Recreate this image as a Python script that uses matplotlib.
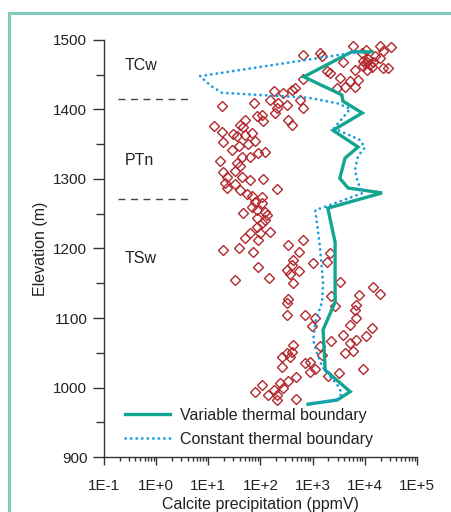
import numpy as np
import matplotlib
matplotlib.use("Agg")
import matplotlib.pyplot as plt
from matplotlib.patches import Rectangle
from matplotlib.ticker import FixedLocator, LogLocator, NullFormatter

plt.rcParams['font.family'] = ['Liberation Sans', 'DejaVu Sans']

# measured calcite (log10 of ppmV) vs elevation (m)
obs_elev = [
    1491, 1479, 1481, 1477, 1486, 1481, 1491, 1490, 1484, 1477, 1472, 1467, 1462,
    1465, 1469, 1457, 1474, 1460, 1460, 1468, 1457, 1455, 1452, 1445, 1441, 1443,
    1433, 1432, 1431, 1444, 1431, 1428, 1424, 1414, 1407, 1402, 1469, 1461, 1470,
    1405, 1410, 1426, 1414, 1409, 1402, 1395, 1390, 1392, 1385, 1383, 1385, 1376,
    1368, 1378, 1375, 1378, 1365, 1362, 1363, 1366, 1353, 1347, 1350, 1355, 1341,
    1337, 1339, 1332, 1332, 1326, 1323, 1319, 1310, 1312, 1303, 1303, 1299, 1300,
    1294, 1287, 1293, 1284, 1279, 1276, 1274, 1286,
    1267, 1265, 1260, 1251, 1255, 1253, 1248, 1244, 1241, 1236, 1231, 1224, 1222,
    1222, 1215, 1212, 1198, 1200, 1195, 1173, 1158, 1155,
    1205, 1212, 1184, 1195, 1176, 1169, 1164, 1167, 1150, 1179, 1193, 1181, 1152,
    1145, 1134, 1133, 1119, 1111, 1090, 1117, 1132, 1121, 1128, 1104, 1104, 1100,
    1088, 1085, 1100,
    1067, 1075, 1064, 1069, 1074, 1049, 1053, 1059, 1047, 1061, 1051, 1049, 1044,
    1030, 1044, 1035, 1037, 1023, 1027, 1015, 1010, 1006, 999, 996, 989, 1003,
    994, 989, 982, 983, 1016, 1021, 1026,
]
obs_log10_ppmv = [
    3.78, 2.81, 3.14, 3.17, 4.02, 3.94, 4.29, 4.50, 4.35, 4.20, 4.07, 4.00, 3.97,
    4.10, 4.16, 4.04, 4.29, 4.35, 4.45, 3.59, 3.81, 3.27, 3.33, 3.52, 3.72, 3.86,
    3.62, 3.81, 3.46, 2.81, 2.66, 2.60, 2.44, 2.76, 2.50, 2.82, 4.05, 4.13, 3.96,
    1.26, 1.88, 2.25, 2.18, 2.34, 2.32, 2.28, 1.93, 2.02, 1.70, 2.05, 2.53, 1.10,
    1.26, 2.60, 1.67, 1.61, 1.48, 1.54, 1.70, 1.83, 1.29, 1.58, 1.77, 1.89, 1.45,
    1.96, 2.09, 1.80, 1.64, 1.22, 1.54, 1.61, 1.29, 1.51, 1.35, 1.64, 1.80, 2.04,
    1.32, 1.35, 1.51, 1.61, 1.74, 1.83, 2.02, 2.31,
    1.89, 2.02, 1.83, 1.67, 1.93, 2.09, 2.12, 1.93, 2.09, 2.02, 1.93, 2.18, 1.99,
    1.80, 1.70, 1.96, 1.29, 1.58, 1.86, 1.96, 2.17, 1.51,
    2.53, 2.82, 2.63, 2.73, 2.60, 2.50, 2.57, 2.73, 2.63, 3.01, 3.33, 3.27, 3.52,
    4.16, 4.29, 3.88, 3.84, 3.81, 3.72, 3.43, 3.36, 2.50, 2.53, 2.50, 2.85, 3.05,
    2.98, 4.13, 3.84,
    3.36, 3.59, 3.72, 3.84, 4.02, 3.62, 3.78, 3.14, 3.17, 2.62, 2.60, 2.50, 2.41,
    2.41, 2.57, 2.85, 2.95, 2.95, 3.05, 2.69, 2.53, 2.37, 2.44, 2.25, 2.31, 2.02,
    1.89, 2.15, 2.31, 2.69, 3.30, 3.51, 3.96,
]

# model: variable thermal boundary
var_elev = [1483, 1483, 1447, 1421, 1412, 1395, 1370, 1346, 1330, 1301, 1287,
            1280, 1258, 1209, 1123, 1083, 1025, 994, 982, 976]
var_log10_ppmv = [4.14, 3.75, 2.83, 3.56, 3.58, 3.95, 3.39, 3.87, 3.62, 3.52,
                  3.68, 4.33, 3.29, 3.43, 3.43, 3.20, 3.24, 3.72, 3.47, 2.91]

# model: constant thermal boundary
const_elev = [1483, 1448, 1434, 1424, 1417, 1409, 1401, 1373, 1356, 1345, 1333,
              1313, 1294, 1280, 1255, 1202, 1150, 1123, 1094, 1068, 1050, 1030,
              1004, 992, 983, 976]
const_log10_ppmv = [3.90, 0.84, 1.05, 1.26, 2.91, 3.47, 3.72, 3.41, 3.91, 4.00,
                    3.87, 3.81, 3.87, 3.97, 3.05, 3.14, 3.20, 3.18, 3.05, 3.01,
                    3.08, 3.18, 3.47, 3.56, 3.49, 2.95]

unit_bounds = [1415, 1271]
unit_names = ['TCw', 'PTn', 'TSw']
unit_label_elev = [1464, 1326, 1186]

xtick_vals = [1e-1, 1e0, 1e1, 1e2, 1e3, 1e4, 1e5]
xtick_labels = ['1E-1', '1E+0', '1E+1', '1E+2', '1E+3', '1E+4', '1E+5']

fig = plt.figure(figsize=(4.51, 5.12), dpi=100)
ax = fig.add_axes([0.2306, 0.1074, 0.6940, 0.8145])

ax.plot(10 ** np.array(obs_log10_ppmv), obs_elev, 'D', ms=4.7, mfc='none',
        mec='#b3282d', mew=1.0, zorder=2)
ax.plot(10 ** np.array(var_log10_ppmv), var_elev, color='#12a58f', lw=2.4,
        solid_joinstyle='miter', label='Variable thermal boundary', zorder=3)
ax.plot(10 ** np.array(const_log10_ppmv), const_elev, color='#1a9de0', lw=2.0,
        linestyle=(0, (0.05, 1.95)), dash_capstyle='round',
        label='Constant thermal boundary', zorder=4)

for b in unit_bounds:
    ax.plot([0.185, 4.86], [b, b], color='#444444', lw=1.0,
            linestyle=(0, (5, 4)), zorder=1)
for name, e in zip(unit_names, unit_label_elev):
    ax.text(0.067, e, name, transform=ax.get_yaxis_transform(),
            ha='left', va='center', fontsize=11.5, color='#222222')

ax.set_xscale('log')
ax.set_xlim(1e-1, 1e5)
ax.set_ylim(900, 1500)
ax.xaxis.set_major_locator(FixedLocator(xtick_vals))
ax.set_xticklabels(xtick_labels)
ax.xaxis.set_minor_locator(LogLocator(base=10, subs=np.arange(2, 10)))
ax.xaxis.set_minor_formatter(NullFormatter())
ax.set_yticks(np.arange(900, 1501, 100))
ax.set_yticks(np.arange(950, 1500, 100), minor=True)

for s in ['top', 'right']:
    ax.spines[s].set_visible(False)
for s in ['left', 'bottom']:
    ax.spines[s].set_color('#333333')
    ax.spines[s].set_linewidth(1.0)

ax.tick_params(axis='both', which='both', colors='#333333', labelcolor='#222222',
               labelsize=11, width=1.0)
ax.tick_params(axis='y', which='major', length=8, pad=4)
ax.tick_params(axis='y', which='minor', length=5.5)
ax.tick_params(axis='x', which='major', length=6, pad=10)
ax.tick_params(axis='x', which='minor', length=3)

ax.set_xlabel('Calcite precipitation (ppmV)', fontsize=11.5, color='#222222',
              labelpad=3)
ax.set_ylabel('Elevation (m)', fontsize=11.5, color='#222222', labelpad=4)

ax.legend(loc='upper left', bbox_to_anchor=(0.067, 0.118), frameon=False,
          fontsize=11.5, handlelength=2.8, handletextpad=0.65,
          labelspacing=0.58, borderpad=0, borderaxespad=0,
          labelcolor='#222222')

fig.add_artist(Rectangle((9 / 451, -0.2), 1.2, 1.2 - 13 / 512,
                         transform=fig.transFigure, fill=False,
                         edgecolor='#7fcbbd', lw=2.2))

fig.savefig('out.png', dpi=100)
